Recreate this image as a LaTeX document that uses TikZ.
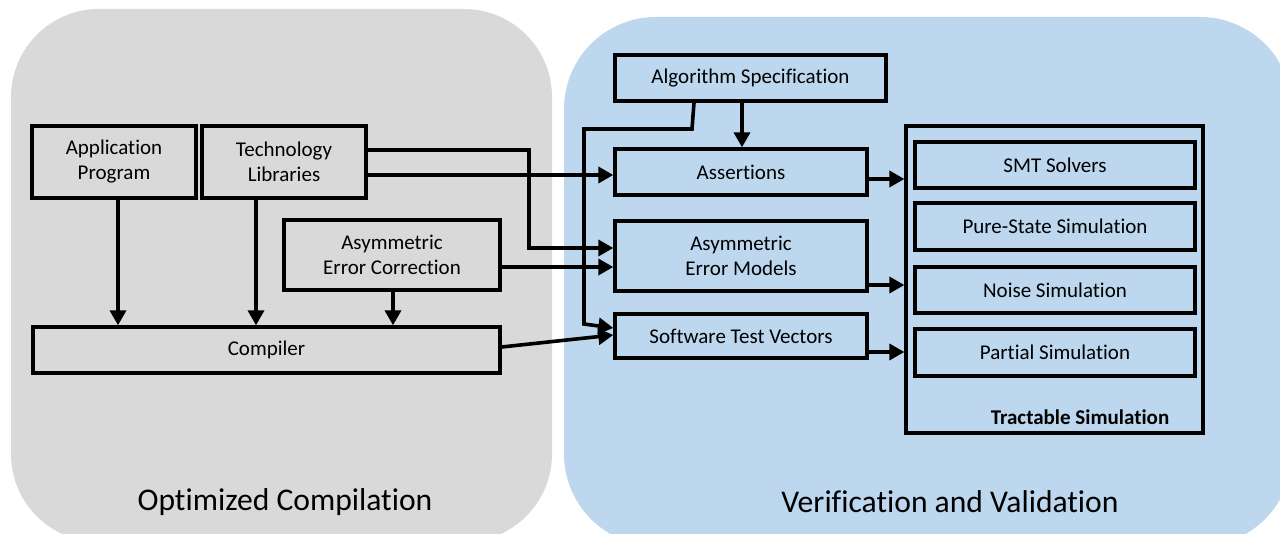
\documentclass[tikz,border=0pt]{standalone}
\usepackage{fontspec}
\setmainfont{Carlito}[Ligatures=NoCommon]
\usetikzlibrary{arrows.meta}
\definecolor{panelgray}{HTML}{D9D9D9}
\definecolor{panelblue}{HTML}{BDD7EE}
\begin{document}
\begin{tikzpicture}[x=1pt,y=-1pt,
  box/.style={draw=black, line width=3.4pt, align=center, inner sep=0pt, font=\fontsize{21}{25}\selectfont},
  arr/.style={line width=3.6pt, line join=miter, -{Triangle[length=15pt,width=16pt]}},
  paneltitle/.style={font=\fontsize{31.6}{36}\selectfont}]
\useasboundingbox (0,0) rectangle (1280,534);
\clip (0,0) rectangle (1280,534);
% panels
\fill[panelgray, rounded corners=88pt] (11,9) rectangle (552,542);
\fill[panelblue, rounded corners=92pt] (564,17) rectangle (1292,546);
\node[paneltitle] (t1) at (285,502) {Optimized Compilation};
\node[paneltitle] (t2) at (950,502) {Verification and Validation};
% left boxes
\node[box, minimum width=164pt, minimum height=72pt] (app) at (114,162) {Application\\Program};
\node[box, minimum width=164pt, minimum height=72pt] (tech) at (284,162) {Technology\\Libraries};
\node[box, minimum width=216pt, minimum height=70pt] (aec) at (392,255) {Asymmetric\\Error Correction};
\node[box, minimum width=467pt, minimum height=46pt] (comp) at (266.5,350) {Compiler};
% right boxes
\node[box, minimum width=271pt, minimum height=46pt] (alg) at (750.5,78) {Algorithm Specification};
\node[box, minimum width=252pt, minimum height=46pt] (assert) at (741,172) {Assertions};
\node[box, minimum width=252pt, minimum height=70pt] (aem) at (741,256) {Asymmetric\\Error Models};
\node[box, minimum width=252pt, minimum height=44pt] (swtv) at (741,336) {Software Test Vectors};
\node[box, line width=3.2pt, minimum width=297pt, minimum height=307pt] (tract) at (1054.5,279.5) {};
\node[box, minimum width=280pt, minimum height=46pt] (smt) at (1055,165) {SMT Solvers};
\node[box, minimum width=280pt, minimum height=47pt] (pure) at (1055,226.5) {Pure-State Simulation};
\node[box, minimum width=280pt, minimum height=46pt] (noise) at (1055,290) {Noise Simulation};
\node[box, minimum width=280pt, minimum height=47pt] (partial) at (1055,352.5) {Partial Simulation};
\node[font=\fontsize{21}{25}\selectfont\bfseries] (tlab) at (1080,417) {Tractable Simulation};
% connectors
\draw[arr] (app.south -| 118,0) -- (comp.north -| 118,0);
\draw[arr] (tech.south -| 256,0) -- (comp.north -| 256,0);
\draw[arr] (aec.south -| 393,0) -- (comp.north -| 393,0);
\draw[arr] (tech.east |- 0,150) -- (529,150) -- (529,248) -- (aem.west |- 0,248);
\draw[arr] (tech.east |- 0,175) -- (assert.west |- 0,175);
\draw[arr] (aec.east |- 0,267) -- (aem.west |- 0,267);
\draw[arr] (comp.east |- 0,347) -- (swtv.west |- 0,335);
\draw[arr] (alg.south -| 742,0) -- (assert.north -| 742,0);
\draw[arr] (alg.south -| 694,0) -- (692,129) -- (584,129) -- (584,324) -- (swtv.west |- 0,328);
\draw[arr] (assert.east |- 0,179) -- (tract.west |- 0,179);
\draw[arr] (aem.east |- 0,285) -- (tract.west |- 0,285);
\draw[arr] (swtv.east |- 0,352) -- (tract.west |- 0,352);
\end{tikzpicture}
\end{document}
